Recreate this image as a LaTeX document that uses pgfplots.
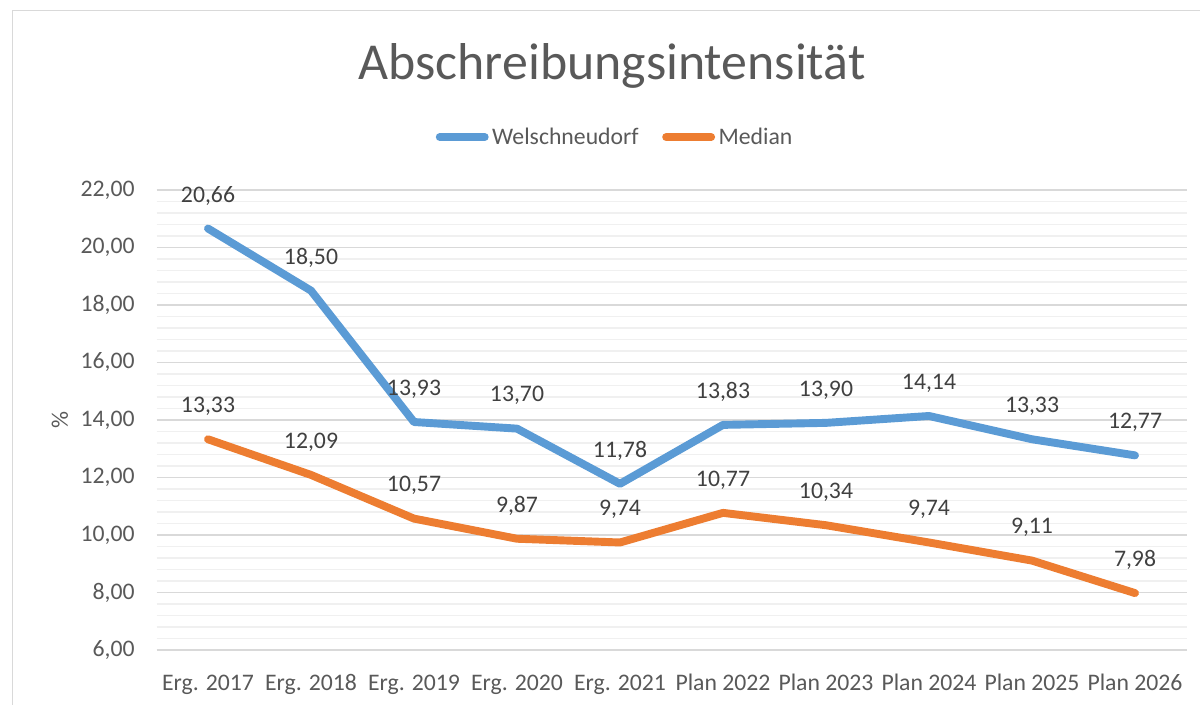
\documentclass[border=0pt]{standalone}
\usepackage{fontspec}
\setmainfont{Carlito}
\usepackage{pgfplots}
\pgfplotsset{compat=1.18}

\definecolor{wblue}{HTML}{5B9BD5}
\definecolor{morange}{HTML}{ED7D31}
\definecolor{txt}{HTML}{595959}
\definecolor{lbl}{HTML}{404040}
\definecolor{gmaj}{HTML}{D9D9D9}
\definecolor{gmin}{HTML}{F0F0F0}

\pgfplotstableread{
x welsch median
0 20.66 13.33
1 18.50 12.09
2 13.93 10.57
3 13.70 9.87
4 11.78 9.74
5 13.83 10.77
6 13.90 10.34
7 14.14 9.74
8 13.33 9.11
9 12.77 7.98
}\abschr

\begin{document}
\begin{tikzpicture}
\path[use as bounding box] (0,0) rectangle (240mm,140.8mm);
\draw[gmaj, line width=0.4pt] (2.4mm,-5mm) rectangle (250mm,138.8mm);
\node[font=\fontsize{29.5}{34}\selectfont, text=txt] at (122.4mm,127.6mm) {Abschreibungsintensität};
\begin{axis}[
    at={(31.3mm,10.8mm)}, anchor=south west,
    scale only axis, width=206mm, height=92mm,
    xmin=-0.5, xmax=9.5, ymin=6, ymax=22,
    xtick=data,
    xticklabels={Erg. 2017,Erg. 2018,Erg. 2019,Erg. 2020,Erg. 2021,Plan 2022,Plan 2023,Plan 2024,Plan 2025,Plan 2026},
    ytick={6,8,...,22},
    minor y tick num=4,
    axis line style={draw=none},
    major tick length=0pt, minor tick length=0pt,
    ymajorgrids, yminorgrids,
    major grid style={gmaj, line width=0.8pt},
    minor grid style={gmin, line width=0.8pt},
    /pgf/number format/assume math mode=true,
    yticklabel style={/pgf/number format/fixed, /pgf/number format/fixed zerofill,
        /pgf/number format/precision=2, /pgf/number format/use comma},
    tick label style={font=\fontsize{13.5}{16}\selectfont, text=txt},
    y tick label style={anchor=east, inner sep=0pt, xshift=-4.3mm},
    x tick label style={anchor=base, inner sep=0pt, yshift=-8mm},
    ylabel={\%},
    ylabel style={at={(axis description cs:-0.0937,0.5)}, anchor=center, font=\fontsize{13.5}{16}\selectfont, text=txt},
    legend style={at={(0.446,1.115)}, anchor=center, draw=none, fill=none,
        legend columns=2, font=\fontsize{13.5}{16}\selectfont, text=txt,
        /tikz/every even column/.append style={column sep=4mm}},
    legend image code/.code={\draw[#1, line width=4.5pt, line cap=round] (0mm,0mm) -- (9mm,0mm);},
    legend cell align=left,
    nodes near coords={\pgfmathprintnumber[fixed, fixed zerofill, precision=2, use comma, assume math mode=true]{\pgfplotspointmeta}},
    point meta=y,
    nodes near coords style={font=\fontsize{13.5}{16}\selectfont, text=lbl, anchor=center, yshift=6.6mm},
    every axis plot/.append style={line width=4.5pt, line join=round, line cap=round, mark=none},
    clip=false,
]
\addplot[wblue] table[x=x, y=welsch] {\abschr};
\addlegendentry{Welschneudorf}
\addplot[morange] table[x=x, y=median] {\abschr};
\addlegendentry{Median}
\end{axis}
\end{tikzpicture}
\end{document}
